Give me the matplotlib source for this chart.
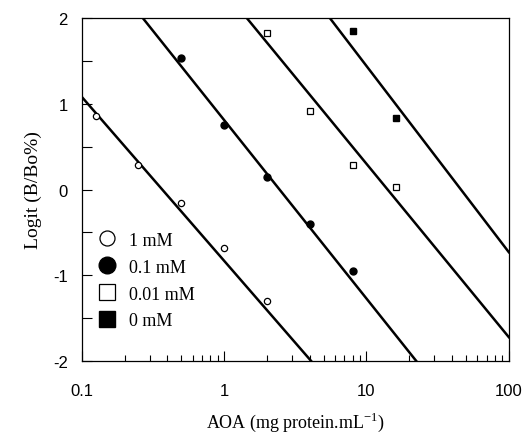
import numpy as np
import matplotlib
matplotlib.use("Agg")
import matplotlib.pyplot as plt
from matplotlib.ticker import LogLocator, FixedLocator, NullFormatter

# DATA
labels = ["1 mM", "0.1 mM", "0.01 mM", "0 mM"]

x_1mM = [0.125, 0.25, 0.5, 1, 2]
y_1mM = [0.86, 0.29, -0.16, -0.68, -1.30]

x_01mM = [0.5, 1, 2, 4, 8]
y_01mM = [1.53, 0.75, 0.15, -0.40, -0.95]

x_001mM = [2, 4, 8, 16]
y_001mM = [1.82, 0.92, 0.29, 0.03]

x_0mM = [8, 16]
y_0mM = [1.85, 0.83]

# fitted lines: y = a + b*log10(x)
line_a = [-0.83, 0.81, 2.32, 3.61]
line_b = [-1.91, -2.08, -2.02, -2.17]

fig = plt.figure(figsize=(5.24, 4.39), dpi=100)
ax = fig.add_axes([0.156, 0.175, 0.815, 0.782])

serif = "Liberation Serif"
sans = "Liberation Sans"

xs = np.logspace(-1, 2, 200)
for a, b in zip(line_a, line_b):
    ax.plot(xs, a + b * np.log10(xs), color="black", lw=1.8, zorder=2)

ax.plot(x_1mM, y_1mM, "o", ms=4.5, mfc="white", mec="black", mew=0.9, zorder=3, label=labels[0])
ax.plot(x_01mM, y_01mM, "o", ms=5, mfc="black", mec="black", zorder=3, label=labels[1])
ax.plot(x_001mM, y_001mM, "s", ms=5, mfc="white", mec="black", mew=0.9, zorder=3, label=labels[2])
ax.plot(x_0mM, y_0mM, "s", ms=5, mfc="black", mec="black", zorder=3, label=labels[3])

ax.set_xscale("log")
ax.set_xlim(0.1, 100)
ax.set_ylim(-2, 2)

ax.set_xticks([0.1, 1, 10, 100])
ax.set_xticklabels(["0.1", "1", "10", "100"], fontfamily=sans, fontsize=12)
ax.xaxis.set_minor_locator(LogLocator(base=10, subs=np.arange(2, 10)))
ax.xaxis.set_minor_formatter(NullFormatter())

ax.set_yticks([-2, -1, 0, 1, 2])
ax.set_yticklabels(["-2", "-1", "0", "1", "2"], fontfamily=sans, fontsize=12)
ax.yaxis.set_minor_locator(FixedLocator([-1.5, -0.5, 0.5, 1.5]))

ax.tick_params(which="major", direction="in", length=7, width=0.8)
ax.tick_params(axis="x", which="major", pad=16)
ax.tick_params(axis="y", which="major", pad=10)
ax.tick_params(axis="x", which="minor", direction="in", length=4, width=0.8)
ax.tick_params(axis="y", which="minor", direction="in", length=7, width=0.8)

for s in ax.spines.values():
    s.set_linewidth(0.9)

ax.set_xlabel("AOA (mg protein.mL$^{\\mathregular{-1}}$)", fontfamily=serif, fontsize=13, labelpad=8)
ax.set_ylabel("Logit (B/Bo%)", fontfamily=serif, fontsize=14, labelpad=8)

leg = ax.legend(loc="lower left", bbox_to_anchor=(0.0, 0.045), frameon=False, markerscale=2.4,
                handlelength=1.0, handletextpad=0.7, labelspacing=0.55,
                prop={"family": serif, "size": 13})

fig.savefig("out.png", dpi=100)
